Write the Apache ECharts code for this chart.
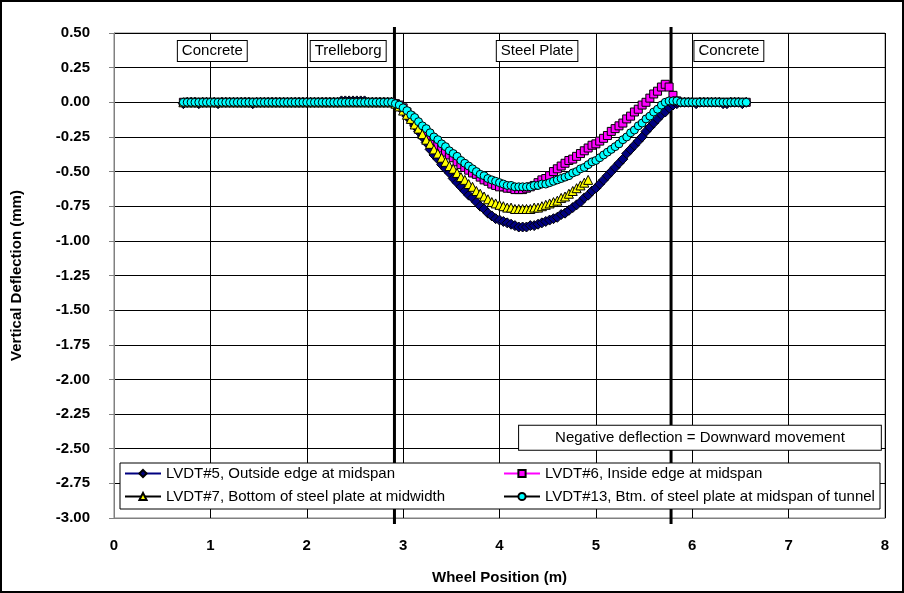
<!DOCTYPE html>
<html>
<head>
<meta charset="utf-8">
<script src="https://cdn.jsdelivr.net/npm/echarts@6/dist/echarts.min.js"></script>
<style>
html,body{margin:0;padding:0;background:#fff;}
#chart{width:904px;height:593px;}
</style>
</head>
<body>
<div id="chart"></div>
<script>
// ---------------- DATA ----------------
const xPos = [
0.72,0.76,0.80,0.84,0.88,0.92,0.96,1.00,1.04,1.08,
1.12,1.16,1.20,1.24,1.28,1.32,1.36,1.40,1.44,1.48,
1.52,1.56,1.60,1.64,1.68,1.72,1.76,1.80,1.84,1.88,
1.92,1.96,2.00,2.04,2.08,2.12,2.16,2.20,2.24,2.28,
2.32,2.36,2.40,2.44,2.48,2.52,2.56,2.60,2.64,2.68,
2.72,2.76,2.80,2.84,2.88,
2.92,2.96,3.00,3.04,3.08,3.12,3.16,3.20,3.24,3.28,
3.32,3.36,3.40,3.44,3.48,3.52,3.56,3.60,3.64,3.68,
3.72,3.76,3.80,3.84,3.88,3.92,3.96,4.00,4.04,4.08,
4.12,4.16,4.20,4.24,4.28,4.32,4.36,4.40,4.44,4.48,
4.52,4.56,4.60,4.64,4.68,4.72,4.76,4.80,4.84,4.88,
4.92,4.96,5.00,5.04,5.08,5.12,5.16,5.20,5.24,5.28,
5.32,5.36,5.40,5.44,5.48,5.52,5.56,5.60,5.64,5.68,
5.72,5.76,5.80,5.84,5.88,
5.92,5.96,6.00,6.04,6.08,6.12,6.16,6.20,6.24,6.28,
6.32,6.36,6.40,6.44,6.48,6.52,6.56
];

const lvdt5 = [
-0.01,0.00,0.00,0.00,-0.01,0.00,0.00,0.00,0.00,-0.01,
0.00,0.00,0.00,0.00,0.00,0.00,0.00,0.00,-0.01,0.00,
0.00,0.00,0.00,0.00,0.00,0.00,0.00,0.00,0.00,0.00,
0.00,0.00,0.00,0.00,0.00,0.00,0.00,0.00,0.00,0.00,
0.00,0.01,0.01,0.01,0.01,0.01,0.01,0.01,0.00,0.00,
0.00,0.00,0.00,0.00,0.00,
-0.01,-0.03,-0.06,-0.10,-0.13,-0.17,-0.21,-0.25,-0.29,-0.34,
-0.38,-0.41,-0.45,-0.48,-0.51,-0.55,-0.58,-0.61,-0.64,-0.67,
-0.69,-0.72,-0.75,-0.77,-0.80,-0.82,-0.84,-0.85,-0.86,-0.87,
-0.88,-0.89,-0.90,-0.90,-0.90,-0.89,-0.89,-0.88,-0.87,-0.86,
-0.85,-0.84,-0.83,-0.81,-0.80,-0.78,-0.76,-0.74,-0.72,-0.69,
-0.67,-0.64,-0.62,-0.59,-0.56,-0.53,-0.50,-0.47,-0.44,-0.41,
-0.37,-0.34,-0.31,-0.28,-0.25,-0.21,-0.18,-0.15,-0.12,-0.09,
-0.07,-0.04,-0.02,-0.01,0.00,
0.00,0.00,0.00,-0.01,0.00,0.00,0.00,0.00,0.00,0.00,
-0.01,-0.01,0.00,0.00,0.00,-0.01,0.00
];

const lvdt6 = [
0.00,0.00,0.00,0.00,0.00,0.00,0.00,0.00,0.00,0.00,
0.00,0.00,0.00,0.00,0.00,0.00,0.00,0.00,0.00,0.00,
0.00,0.00,0.00,0.00,0.00,0.00,0.00,0.00,0.00,0.00,
0.00,0.00,0.00,0.00,0.00,0.00,0.00,0.00,0.00,0.00,
0.00,0.00,0.00,0.00,0.00,0.00,0.00,0.00,0.00,0.00,
0.00,0.00,0.00,0.00,0.00,
-0.01,-0.02,-0.04,-0.07,-0.10,-0.13,-0.17,-0.20,-0.23,-0.26,
-0.28,-0.31,-0.33,-0.36,-0.38,-0.40,-0.43,-0.45,-0.47,-0.49,
-0.51,-0.52,-0.54,-0.56,-0.57,-0.59,-0.60,-0.61,-0.61,-0.62,
-0.62,-0.63,-0.63,-0.63,-0.62,-0.61,-0.60,-0.58,-0.56,-0.55,
-0.53,-0.50,-0.48,-0.46,-0.44,-0.42,-0.41,-0.39,-0.37,-0.35,
-0.33,-0.31,-0.30,-0.28,-0.26,-0.24,-0.21,-0.19,-0.17,-0.15,
-0.12,-0.10,-0.07,-0.05,-0.02,0.00,0.03,0.06,0.08,0.11,
0.13,0.11,0.05,0.01,0.00,
0.00,0.00,0.00,0.00,0.00,0.00,0.00,0.00,0.00,0.00,
0.00,0.00,0.00,0.00,0.00,0.00,0.00
];

const lvdt7 = [
0.00,0.00,0.00,0.00,0.00,0.00,0.00,0.00,0.00,0.00,
0.00,0.00,0.00,0.00,0.00,0.00,0.00,0.00,0.00,0.00,
0.00,0.00,0.00,0.00,0.00,0.00,0.00,0.00,0.00,0.00,
0.00,0.00,0.00,0.00,0.00,0.00,0.00,0.00,0.00,0.00,
0.00,0.00,0.00,0.00,0.00,0.00,0.00,0.00,0.00,0.00,
0.00,0.00,0.00,0.00,0.00,
-0.01,-0.03,-0.06,-0.09,-0.12,-0.16,-0.19,-0.23,-0.27,-0.30,
-0.34,-0.37,-0.40,-0.43,-0.46,-0.48,-0.51,-0.54,-0.56,-0.59,
-0.61,-0.64,-0.66,-0.68,-0.70,-0.72,-0.73,-0.74,-0.75,-0.76,
-0.76,-0.77,-0.77,-0.77,-0.77,-0.77,-0.76,-0.76,-0.75,-0.74,
-0.73,-0.72,-0.71,-0.69,-0.68,-0.66,-0.64,-0.62,-0.60,-0.58,
-0.56
];

const lvdt13 = [
0.00,0.00,0.00,0.00,0.00,0.00,0.00,0.00,0.00,0.00,
0.00,0.00,0.00,0.00,0.00,0.00,0.00,0.00,0.00,0.00,
0.00,0.00,0.00,0.00,0.00,0.00,0.00,0.00,0.00,0.00,
0.00,0.00,0.00,0.00,0.00,0.00,0.00,0.00,0.00,0.00,
0.00,0.00,0.00,0.00,0.00,0.00,0.00,0.00,0.00,0.00,
0.00,0.00,0.00,0.00,0.00,
-0.01,-0.02,-0.04,-0.06,-0.09,-0.11,-0.14,-0.17,-0.19,-0.22,
-0.25,-0.27,-0.30,-0.32,-0.35,-0.37,-0.39,-0.42,-0.44,-0.46,
-0.48,-0.50,-0.52,-0.53,-0.55,-0.56,-0.57,-0.58,-0.59,-0.60,
-0.60,-0.61,-0.61,-0.61,-0.61,-0.61,-0.60,-0.60,-0.59,-0.59,
-0.58,-0.57,-0.56,-0.55,-0.54,-0.53,-0.51,-0.50,-0.48,-0.47,
-0.45,-0.43,-0.42,-0.40,-0.38,-0.36,-0.34,-0.32,-0.30,-0.27,
-0.25,-0.22,-0.20,-0.17,-0.15,-0.12,-0.10,-0.07,-0.05,-0.02,
0.00,0.01,0.01,0.01,0.00,
0.00,0.00,0.00,0.00,0.00,0.00,0.00,0.00,0.00,0.00,
0.00,0.00,0.00,0.00,0.00,0.00,0.00
];

const seriesNames = [
  'LVDT#5, Outside edge at midspan',
  'LVDT#6, Inside edge at midspan',
  'LVDT#7, Bottom of steel plate at midwidth',
  'LVDT#13, Btm. of steel plate at midspan of tunnel'
];
const xTicks = [0,1,2,3,4,5,6,7,8];
const yTicks = [0.5,0.25,0,-0.25,-0.5,-0.75,-1,-1.25,-1.5,-1.75,-2,-2.25,-2.5,-2.75,-3];
const boundaryX = [2.91, 5.78];
const zoneLabels = ['Concrete','Trelleborg','Steel Plate','Concrete'];
const noteText = 'Negative deflection = Downward movement';

// ---------------- LAYOUT ----------------
const zoneLabelPos = [[1.02,0.37],[2.43,0.37],[4.39,0.37],[6.38,0.37]];
const notePos = [6.08,-2.42];
const FONT = '"Liberation Sans", Arial, sans-serif';

function pairs(arr){ return arr.map((v,i)=>[xPos[i], v]); }

const chart = echarts.init(document.getElementById('chart'), null, {renderer:'canvas'});

const mk = (name, data, symbol, size, color, lineColor) => ({
  name, type:'line', data: pairs(data), symbol, symbolSize:size,
  showAllSymbol:true, z:3,
  lineStyle:{color:lineColor, width:1},
  itemStyle:{color, borderColor:'#000', borderWidth:1},
  emphasis:{disabled:true}, animation:false
});

const legendCommon = {
  padding:0, itemWidth:36, itemHeight:9, itemGap:0, z:12, zlevel:1,
  textStyle:{fontFamily:FONT, fontSize:15, color:'#000'},
  selectedMode:false
};

const option = {
  animation:false,
  xAxis:{
    type:'value', min:0, max:8, interval:1,
    name:'Wheel Position (m)', nameLocation:'middle', nameGap:52,
    nameTextStyle:{fontFamily:FONT, fontSize:15, fontWeight:'bold', color:'#000'},
    axisLine:{show:true, onZero:false, lineStyle:{color:'#808080'}},
    axisTick:{show:false},
    axisLabel:{fontFamily:FONT, fontSize:15, fontWeight:'bold', color:'#000', margin:20},
    splitLine:{show:true, lineStyle:{color:'#000', width:1}}
  },
  yAxis:{
    type:'value', min:-3, max:0.5, interval:0.25,
    name:'Vertical Deflection (mm)', nameLocation:'middle', nameGap:90, nameRotate:90,
    nameTextStyle:{fontFamily:FONT, fontSize:15, fontWeight:'bold', color:'#000'},
    axisLine:{show:true, onZero:false, lineStyle:{color:'#808080'}},
    axisTick:{show:true, inside:false, length:5, lineStyle:{color:'#808080'}},
    axisLabel:{fontFamily:FONT, fontSize:15, fontWeight:'bold', color:'#000', margin:24,
      formatter:v=>v.toFixed(2)},
    splitLine:{show:true, lineStyle:{color:'#000', width:1}}
  },
  grid:{left:114, right:19, top:33, bottom:75, show:true, borderColor:'#808080', borderWidth:1, backgroundColor:'#fff'},
  legend:[
    Object.assign({}, legendCommon, {left:124, top:466, data:[seriesNames[0]]}),
    Object.assign({}, legendCommon, {left:503, top:466, data:[seriesNames[1]]}),
    Object.assign({}, legendCommon, {left:124, top:489, data:[seriesNames[2]]}),
    Object.assign({}, legendCommon, {left:503, top:489, data:[seriesNames[3]]})
  ],
  graphic:[
    {type:'rect', z:10, zlevel:1, shape:{x:120, y:463, width:760, height:46},
      style:{fill:'#fff', stroke:'#000', lineWidth:1}},
    {type:'rect', z:20, zlevel:1, shape:{x:1, y:1, width:902, height:591},
      style:{fill:'none', stroke:'#000', lineWidth:2}, silent:true}
  ],
  series:[
    {
      type:'custom', name:'boundaries', z:2, clip:false, silent:true,
      data: boundaryX.map(x=>[x, 0]),
      encode:{x:0, y:1},
      renderItem:(params, api)=>{
        const t = api.coord([api.value(0), 0.5]);
        const b = api.coord([api.value(0), -3]);
        return {type:'line', shape:{x1:t[0], y1:t[1]-6, x2:t[0], y2:b[1]+6},
          style:{stroke:'#000', lineWidth:3}};
      }
    },
    mk(seriesNames[0], lvdt5, 'diamond', 10, '#000080', '#000080'),
    mk(seriesNames[1], lvdt6, 'rect', 8, '#FF00FF', '#FF00FF'),
    mk(seriesNames[2], lvdt7, 'triangle', 9, '#FFFF00', '#000000'),
    mk(seriesNames[3], lvdt13, 'circle', 8, '#00FFFF', '#000000'),
    {
      type:'custom', name:'zones', z:15, zlevel:1, clip:false, silent:true,
      data: zoneLabelPos.map((p,i)=>[p[0], p[1], i]),
      encode:{x:0, y:1},
      renderItem:(params, api)=>{
        const p = api.coord([api.value(0), api.value(1)]);
        return {type:'text', x:p[0], y:p[1], style:{
          text: zoneLabels[api.value(2)], align:'center', verticalAlign:'middle',
          font:'15px ' + FONT, fill:'#000', backgroundColor:'#fff',
          borderColor:'#000', borderWidth:1, padding:[3,4,2,4]}};
      }
    },
    {
      type:'custom', name:'note', z:15, zlevel:1, clip:false, silent:true,
      data: [[notePos[0], notePos[1]]],
      encode:{x:0, y:1},
      renderItem:(params, api)=>{
        const p = api.coord([api.value(0), api.value(1)]);
        return {type:'text', x:p[0], y:p[1], style:{
          text: noteText, align:'center', verticalAlign:'middle',
          font:'15px ' + FONT, fill:'#000', backgroundColor:'#fff',
          borderColor:'#000', borderWidth:1, padding:[5,36,4,36]}};
      }
    }
  ]
};
chart.setOption(option);
</script>
</body>
</html>
